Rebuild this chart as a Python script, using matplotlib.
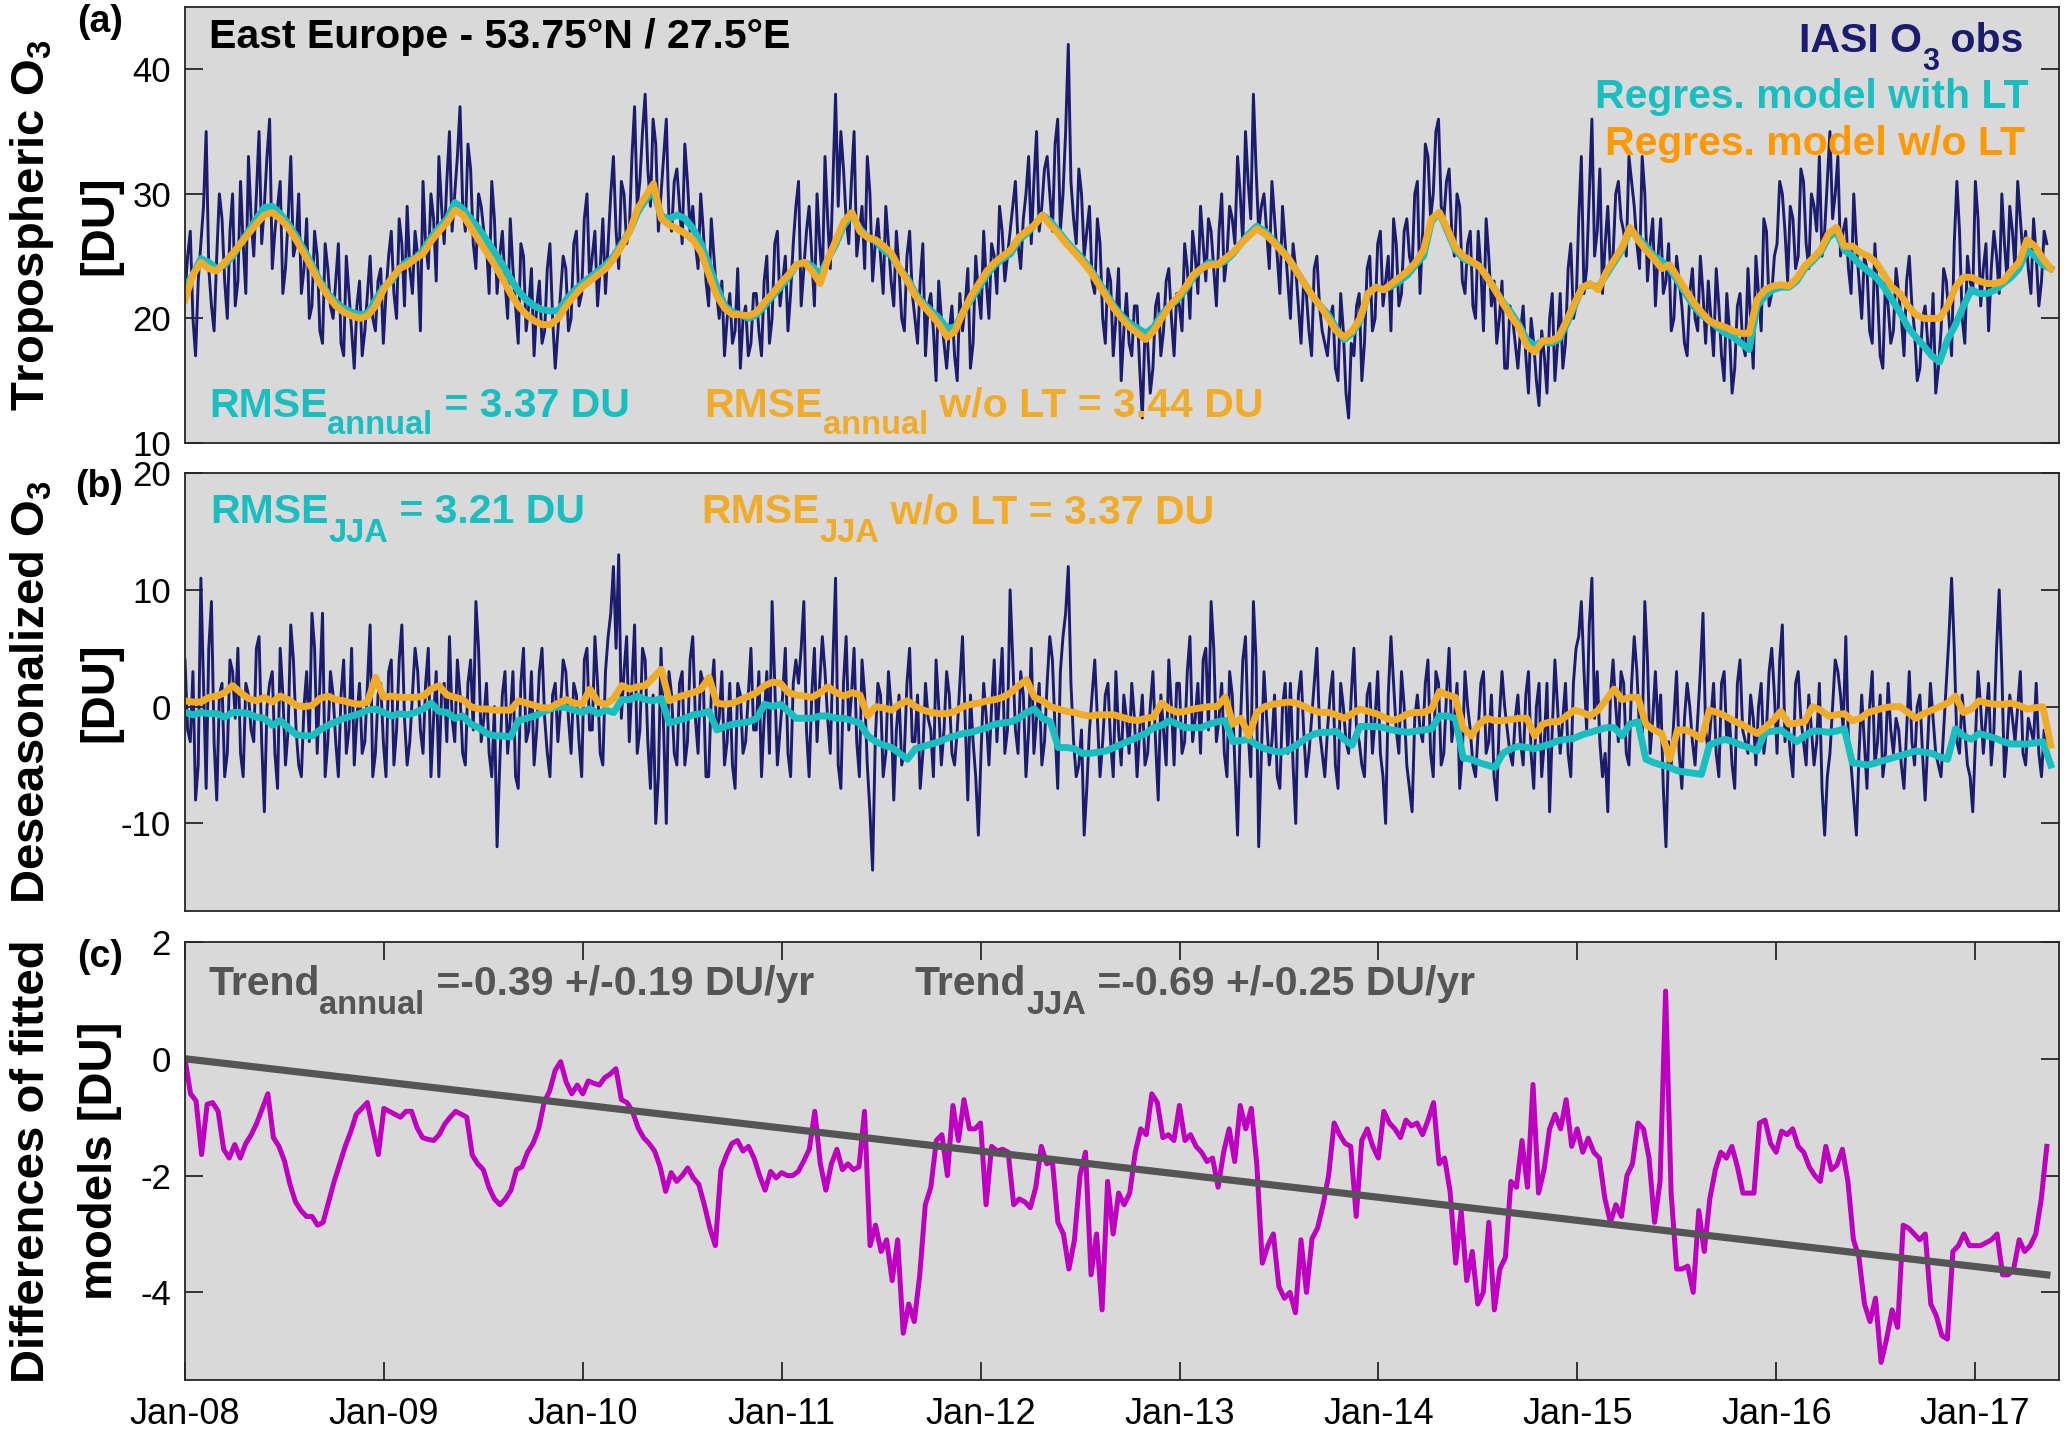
import numpy as np
import matplotlib
matplotlib.use('Agg')
import matplotlib.pyplot as plt

plt.rcParams['font.family'] = ['Liberation Sans', 'DejaVu Sans']
plt.rcParams['mathtext.fontset'] = 'custom'
plt.rcParams['mathtext.rm'] = 'Liberation Sans'
plt.rcParams['mathtext.bf'] = 'Liberation Sans:bold'
plt.rcParams['axes.unicode_minus'] = False

# ---- data (one row per year) ----
# (a) IASI tropospheric O3 observations [DU], ~10-day samples
obs_a = [
    22, 27, 17, 26, 35, 21, 25, 28, 20, 30, 23, 26, 33, 25, 35, 29, 36, 27, 31, 24, 33, 26, 22, 28, 21, 25, 18, 24, 20, 26, 17, 22, 16, 23, 19, 25,
    19, 24, 22, 27, 20, 26, 29, 22, 25, 31, 24, 28, 33, 26, 35, 30, 37, 27, 32, 24, 29, 26, 31, 22, 27, 20, 24, 18, 25, 21, 17, 23, 19, 26, 16, 22,
    24, 20, 27, 22, 30, 25, 21, 28, 26, 33, 24, 30, 27, 37, 31, 38, 29, 34, 30, 36, 27, 32, 26, 31, 29, 24, 27, 21, 25, 20, 17, 22, 19, 16, 21, 18,
    22, 17, 25, 20, 27, 23, 19, 26, 31, 24, 29, 21, 26, 33, 24, 38, 35, 28, 31, 25, 29, 33, 23, 28, 22, 26, 21, 24, 19, 27, 20, 23, 17, 22, 15, 20,
    16, 21, 15, 19, 24, 18, 22, 27, 20, 25, 29, 23, 27, 31, 24, 30, 26, 35, 29, 33, 27, 36, 30, 42, 28, 32, 25, 29, 22, 26, 18, 23, 20, 15, 22, 17,
    21, 12, 18, 16, 22, 19, 24, 17, 21, 26, 20, 25, 29, 23, 27, 21, 30, 25, 28, 33, 26, 31, 38, 27, 30, 24, 28, 22, 26, 20, 24, 18, 22, 17, 25, 19,
    17, 21, 15, 19, 12, 17, 22, 18, 25, 20, 27, 23, 19, 26, 22, 28, 24, 31, 27, 33, 30, 36, 28, 32, 25, 29, 22, 27, 20, 24, 28, 21, 18, 23, 16, 20,
    16, 21, 14, 18, 13, 17, 20, 15, 22, 18, 26, 21, 33, 24, 36, 27, 22, 29, 25, 31, 27, 33, 29, 24, 30, 26, 21, 28, 23, 19, 25, 21, 17, 24, 19, 22,
    23, 17, 21, 15, 19, 16, 22, 17, 20, 25, 19, 27, 22, 26, 30, 23, 28, 25, 31, 24, 29, 33, 27, 35, 30, 25, 28, 22, 26, 20, 24, 18, 22, 16, 21, 19,
    22, 17, 25, 19, 16, 21, 17, 14, 19, 23, 17, 31, 20, 25, 22, 28, 24, 19, 27, 22, 26, 29, 24, 28, 27, 22, 25, 23, 26,
]
# (a) observations falling between the samples above
obs_a_mid = [
    25, 20, 23, 29, 24, 19, 30, 23, 27, 21, 31, 22, 28, 30, 26, 33, 24, 29, 22, 28, 25, 30, 24, 20, 27, 19, 26, 21, 23, 18, 25, 19, 21, 17, 22, 20,
    23, 18, 25, 22, 28, 21, 24, 27, 19, 26, 30, 23, 29, 31, 27, 33, 29, 34, 26, 30, 27, 22, 28, 25, 23, 28, 21, 26, 19, 24, 21, 18, 24, 20, 19, 25,
    19, 26, 21, 28, 23, 27, 24, 22, 30, 27, 31, 26, 33, 29, 35, 32, 36, 27, 33, 28, 31, 29, 34, 27, 26, 30, 23, 28, 22, 23, 20, 18, 24, 20, 17, 22,
    19, 23, 18, 26, 21, 25, 22, 29, 21, 27, 25, 30, 23, 28, 31, 29, 32, 26, 35, 27, 24, 30, 26, 25, 29, 23, 27, 20, 25, 22, 18, 26, 21, 19, 23, 18,
    19, 17, 22, 21, 16, 25, 20, 23, 26, 22, 27, 25, 29, 26, 28, 33, 31, 27, 32, 30, 34, 27, 35, 31, 26, 30, 27, 23, 28, 20, 24, 17, 24, 19, 18, 21,
    16, 19, 14, 21, 17, 23, 20, 22, 19, 24, 27, 22, 26, 28, 24, 27, 23, 29, 26, 30, 35, 28, 32, 29, 27, 31, 25, 29, 23, 26, 21, 23, 19, 24, 21, 18,
    20, 16, 22, 14, 18, 21, 15, 24, 19, 26, 21, 25, 28, 21, 27, 25, 30, 22, 34, 28, 35, 29, 31, 27, 30, 23, 26, 21, 27, 19, 25, 23, 20, 16, 21, 18,
    19, 17, 20, 15, 19, 14, 22, 18, 16, 24, 20, 28, 22, 30, 25, 32, 26, 24, 30, 28, 25, 31, 26, 33, 23, 28, 25, 22, 26, 20, 23, 18, 22, 20, 25, 18,
    20, 24, 17, 22, 14, 21, 18, 24, 16, 22, 28, 21, 25, 31, 27, 29, 24, 32, 26, 30, 27, 25, 31, 28, 33, 27, 24, 30, 23, 25, 19, 26, 17, 23, 18, 24,
    20, 23, 21, 15, 20, 18, 22, 16, 24, 20, 26, 27, 18, 23, 31, 21, 26, 24, 25, 30, 23, 27, 31, 25, 24, 28, 21, 27,
]
# (a) regression model with long-term trend, half-month samples
model_lt_a = [
    22.5, 23.5, 24.8, 24.5, 24.0, 24.3, 25.0, 26.0, 27.0, 28.0, 28.9, 29.0, 28.4, 27.6, 26.6, 25.5, 24.3, 23.0, 22.0, 21.3, 20.8, 20.5, 20.3, 20.4,
    21.5, 22.5, 23.0, 24.0, 24.6, 24.8, 25.5, 26.5, 27.3, 28.0, 29.3, 28.8, 28.0, 27.2, 26.3, 25.3, 24.3, 23.2, 22.2, 21.5, 21.0, 20.7, 20.6, 20.6,
    21.5, 22.2, 22.8, 23.3, 23.8, 24.3, 25.0, 26.0, 27.0, 28.5, 29.5, 30.2, 28.2, 28.0, 28.3, 28.0, 27.2, 26.0, 24.3, 22.5, 21.0, 20.5, 20.3, 20.0,
    20.3, 21.0, 21.8, 22.5, 23.3, 24.3, 24.5, 24.2, 23.5, 24.8, 26.0, 27.5, 28.3, 27.2, 26.5, 26.2, 25.5, 25.0, 24.0, 23.2, 22.0, 21.2, 20.6, 20.0,
    19.2, 19.3, 20.5, 21.5, 22.5, 23.5, 24.3, 24.8, 25.2, 26.3, 26.8, 27.5, 28.3, 27.8, 27.0, 26.2, 25.5, 24.8, 24.0, 23.0, 22.0, 21.0, 20.2, 19.6,
    19.2, 18.8, 19.3, 20.3, 21.0, 21.5, 22.3, 23.3, 24.0, 24.5, 24.3, 24.6, 25.2, 26.0, 26.8, 27.4, 27.0, 26.3, 25.6, 24.8, 23.8, 22.8, 21.8, 21.0,
    20.3, 19.2, 18.3, 18.8, 19.8, 22.0, 22.5, 22.3, 22.6, 23.0, 23.5, 24.3, 25.0, 27.8, 28.5, 27.0, 25.5, 24.8, 24.5, 24.2, 23.3, 22.3, 21.3, 20.5,
    19.5, 18.3, 17.8, 18.2, 18.0, 18.3, 19.5, 21.0, 22.5, 22.7, 22.5, 23.5, 24.5, 25.5, 27.2, 26.5, 25.8, 25.0, 24.6, 24.0, 23.0, 22.0, 21.0, 20.3,
    19.8, 19.3, 18.8, 18.5, 18.0, 17.5, 21.0, 21.8, 22.3, 22.5, 22.5, 23.0, 24.0, 24.6, 25.3, 26.5, 27.0, 25.5, 25.0, 24.3, 23.8, 23.3, 22.5, 21.5,
    20.5, 19.3, 18.5, 17.8, 17.0, 16.5, 18.3, 19.5, 21.0, 22.3, 22.0, 22.0, 22.3, 22.8, 23.3, 24.0, 25.5, 25.0, 24.3, 24.0,
]
# (a) regression model without long-term trend
model_nolt_a = [
    21.5, 23.5, 24.5, 24.0, 23.8, 24.5, 25.2, 26.0, 26.8, 27.6, 28.3, 28.5, 28.0, 27.3, 26.3, 25.2, 24.0, 22.8, 21.8, 21.0, 20.5, 20.2, 20.0, 20.2,
    21.0, 22.3, 23.2, 24.0, 24.3, 24.8, 25.2, 26.2, 27.0, 27.7, 28.7, 28.3, 27.3, 26.3, 25.3, 24.3, 23.2, 22.0, 21.0, 20.3, 19.8, 19.5, 19.5, 20.0,
    21.0, 21.8, 22.5, 23.0, 23.5, 24.0, 24.8, 25.8, 27.0, 28.8, 29.8, 30.8, 28.0, 27.5, 27.2, 26.8, 26.3, 25.3, 23.5, 21.8, 20.8, 20.3, 20.3, 20.2,
    20.5, 21.3, 22.0, 22.8, 23.5, 24.3, 24.5, 23.8, 22.8, 24.8, 26.3, 27.8, 28.5, 27.0, 26.5, 26.3, 25.8, 25.2, 24.0, 23.0, 21.8, 21.0, 20.3, 19.5,
    18.5, 19.0, 20.5, 21.8, 22.8, 23.8, 24.5, 25.0, 25.5, 26.5, 27.0, 27.5, 28.3, 27.5, 26.8, 26.0, 25.3, 24.6, 23.8, 22.8, 21.8, 20.8, 20.0, 19.3,
    18.8, 18.3, 19.0, 20.0, 21.0, 21.7, 22.5, 23.5, 24.0, 24.3, 24.3, 24.8, 25.3, 26.0, 26.6, 27.2, 26.8, 26.2, 25.5, 24.8, 23.8, 22.8, 21.8, 21.0,
    20.0, 19.0, 18.5, 19.0, 20.0, 22.0, 22.5, 22.3, 22.8, 23.3, 23.8, 24.5, 25.5, 28.0, 28.5, 27.2, 25.7, 25.0, 24.6, 24.2, 23.3, 22.3, 21.2, 20.2,
    19.3, 17.8, 17.3, 18.2, 18.2, 18.5, 19.8, 21.2, 22.5, 22.8, 22.3, 23.7, 24.7, 25.7, 27.3, 26.3, 25.5, 24.8, 24.0, 24.3, 23.3, 22.3, 21.3, 20.5,
    19.8, 19.5, 19.3, 19.0, 18.8, 18.8, 21.5, 22.3, 22.6, 22.7, 22.6, 23.2, 24.2, 24.8, 25.5, 26.8, 27.3, 25.8, 25.8, 25.3, 25.0, 24.5, 23.5, 22.5,
    22.0, 21.0, 20.3, 20.0, 20.0, 20.0, 21.0, 22.5, 23.3, 23.3, 23.0, 22.8, 22.8, 23.0, 23.8, 24.5, 26.3, 25.8, 24.8, 24.0,
]
# (b) deseasonalized observations [DU]
obs_b = [
    4, -3, -8, 11, -7, 9, -8, 2, -4, 3, 5, -6, 1, -3, 6, -9, 2, -4, 5, -5, 7, -2, -6, 3, 8, -4, 8, -3, 1, -6, 4, -2, -5, 2, -3, 7,
    -4, 2, -6, 4, -2, 7, -5, 1, 3, -4, 5, -1, -6, 2, 6, -3, 1, -5, 4, 9, -3, 2, -6, -12, 1, -4, 3, -7, 5, -2, -5, 3, -1, -6, 2, 0,
    3, -4, 1, -6, 5, -2, 2, -5, 6, 12, 13, 3, -3, 7, -2, 4, -7, -10, 5, -10, 1, -5, 3, -3, 6, -4, 2, -6, 4, -1, -5, 2, -7, 1, -3, 5,
    -2, -6, 3, 9, -5, 1, -4, 2, 2, 9, -6, 5, 2, 3, -4, 11, -7, 6, 1, -3, 4, -5, -14, 2, -6, 3, -8, 1, -4, 5, -3, -7, 2, -2, 4, -5,
    3, -4, -2, 6, -8, -3, -11, 2, -5, 4, 1, -4, 10, -2, 3, -6, 5, -1, -5, 2, 4, -7, 6, 12, -3, -5, -11, -2, 4, -6, 1, -3, 3, -5, -1, 2,
    -6, 1, -4, 3, -8, -2, 4, -5, 2, -3, 6, -1, -4, 5, 9, -3, 2, -6, 1, -11, 4, -2, 9, -12, 3, -5, 1, -7, 2, 2, -10, 3, -6, -1, 5, -4,
    -2, 3, -7, 0, -4, 5, -3, -6, 2, -1, -4, -10, 6, -2, 3, -5, -9, 1, -3, 4, -6, 2, -4, 5, -1, -7, 3, -2, -6, 2, -4, 1, -8, 3, -2, -5,
    1, -5, 3, -7, 2, -3, -9, 4, -4, 2, -6, 5, 9, -2, 11, 3, -6, -9, 4, -3, 2, -5, 6, -2, 9, -4, 3, 1, -12, -5, 3, -7, 2, -3, -1, 8,
    -4, 2, -6, 3, -1, -7, 4, -3, 1, -5, 2, -2, 5, -4, 7, -1, -6, 3, -3, 1, -5, 2, -11, -4, 4, 1, 6, -5, -11, 1, -7, 3, -3, -6, 2, -4,
    -2, -7, 3, -5, 1, -8, 2, -4, -6, 2, 11, -3, 1, -5, -9, 3, -4, 2, -2, 10, -6, 1, -3, 3, -5, -2, 2, -6, -4,
]
obs_b_mid = [
    -2, 3, -5, 2, 5, -3, 1, -6, 4, -1, -4, 2, -2, 5, -3, 0, 3, -7, 1, -2, 4, -5, 0, -3, 5, 2, -6, 3, -3, 1, -4, 5, -1, -4, 2, -6,
    1, -3, 3, -5, 4, -1, -3, 5, -2, 2, -6, 3, 1, -3, -1, 4, -4, 2, -2, 5, -1, -4, 0, -5, 3, -1, -6, 2, -3, 3, -2, 5, -4, 1, -3, 4,
    -1, 2, -3, 4, -2, 6, -4, 3, 8, 5, -1, 6, 2, -4, 5, -3, 1, -6, -2, 3, -4, 2, -5, 4, -1, 3, -6, 1, -2, 3, -3, -5, 2, -4, 1, -2,
    3, -1, -4, 2, -2, 5, -6, 4, 5, -2, 1, -3, 6, -1, 4, -5, 2, -2, 5, -6, 1, -9, -3, 1, -4, 0, -2, -5, 2, -3, 1, -4, -1, -6, 0, -2,
    1, -5, 2, -1, 1, -6, -4, -1, 0, -3, 5, -2, 4, -4, 1, -2, -4, 2, -3, 6, -2, 3, 8, 2, -6, -2, -7, 1, -1, -3, 2, -6, -2, 1, -4, -1,
    -2, -5, 0, -3, 1, -5, 0, 2, -4, 3, -3, 2, 4, -2, 5, -1, -4, 3, -5, -2, 6, -6, 4, -4, -1, -3, -6, 0, -4, -5, 1, -2, -4, 2, -2, -6,
    1, -5, 2, -3, 1, -2, -5, 1, -4, 3, -6, 1, 2, -4, 0, -7, -1, -2, 2, -4, 3, -5, 1, -3, 2, -4, 0, -5, -2, 3, -3, -6, -1, 0, -4, -1,
    -3, 1, -4, 0, -6, 2, -2, 0, -1, -4, 2, 6, 3, 7, -1, -3, -4, 1, 0, 3, -4, 2, 3, -3, 4, -1, -2, -7, -3, -1, -4, -1, 0, -5, 3, -2,
    -1, -4, 2, -3, -5, 2, -2, -4, -1, 0, -4, 3, 1, 4, -3, -4, 2, -1, -5, -2, -3, -7, -6, 0, 3, -2, -3, -8, -4, -3, 0, -5, 1, -4, -2, -1,
    -5, -2, -3, 0, -4, -3, -1, -5, -2, 6, 5, -4, -2, -6, -3, 0, -1, -5, 5, 3, -3, -1, 0, -4, -1, -3, -4, -2,
]
# (b) deseasonalized model with long-term trend
model_lt_b = [
    -0.5, -0.7, -0.5, -0.6, -0.6, -0.9, -0.5, -0.5, -0.6, -0.9, -1.0, -1.6, -1.2, -1.8, -2.4, -2.5, -2.5, -2.0, -1.6, -1.3, -1.0, -0.8, -0.6, -0.3,
    -0.2, -0.5, -0.8, -0.6, -0.7, -0.5, -0.2, 0.3, -0.4, -0.5, -1.0, -0.8, -1.5, -1.8, -2.3, -2.5, -2.5, -2.6, -1.2, -1.0, -0.8, -0.5, -0.2, 0.0,
    -0.1, -0.3, -0.5, -0.2, -0.6, -0.3, -0.5, 0.6, 0.6, 0.9, 0.6, 0.5, 0.7, -1.4, -1.2, -1.0, -0.7, -0.6, -0.4, -2.0, -1.7, -1.5, -1.4, -1.3,
    -1.0, 0.2, 0.0, 0.2, -0.4, -1.0, -1.0, -1.0, -0.8, -0.8, -1.0, -1.0, -1.2, -1.4, -2.5, -3.0, -3.3, -3.5, -4.0, -4.5, -3.6, -3.4, -3.2, -3.0,
    -2.7, -2.5, -2.3, -2.2, -2.0, -1.8, -1.5, -1.4, -1.3, -1.0, -0.5, -0.2, -1.0, -1.3, -3.5, -3.5, -3.6, -4.0, -4.0, -3.9, -3.8, -3.5, -3.2, -2.9,
    -2.6, -2.3, -1.8, -1.6, -1.2, -1.5, -1.8, -1.8, -1.8, -1.5, -1.3, -1.2, -3.0, -2.9, -2.8, -3.3, -3.6, -3.8, -3.9, -3.7, -3.3, -2.8, -2.4, -2.2,
    -2.2, -2.1, -2.8, -3.3, -1.7, -1.7, -1.7, -1.8, -2.0, -2.1, -2.2, -2.1, -2.0, -1.9, -0.8, -0.8, -1.0, -4.4, -4.5, -4.8, -5.0, -5.2, -4.0, -3.6,
    -3.4, -3.5, -3.6, -3.4, -3.2, -2.9, -2.8, -2.7, -2.4, -2.2, -2.0, -1.8, -1.8, -2.5, -1.5, -1.3, -4.5, -4.8, -5.0, -5.2, -5.5, -5.6, -5.7, -5.8,
    -3.3, -3.0, -2.8, -3.0, -3.3, -3.5, -3.8, -2.2, -2.1, -2.0, -2.5, -3.0, -2.5, -2.1, -2.1, -2.2, -2.1, -1.9, -4.8, -4.9, -5.0, -4.8, -4.6, -4.4,
    -4.2, -4.0, -3.8, -3.9, -4.0, -4.3, -4.5, -1.9, -2.5, -2.8, -2.3, -2.5, -2.7, -3.0, -3.2, -3.2, -3.2, -3.1, -3.0, -5.0,
]
# (b) deseasonalized model without long-term trend
model_nolt_b = [
    0.5, 0.4, 0.4, 0.8, 0.9, 1.2, 1.8, 1.2, 0.7, 0.5, 0.8, 0.4, 0.9, 0.6, 0.1, 0.0, 0.1, 0.7, 0.9, 0.6, 0.5, 0.3, 0.2, 0.4,
    2.5, 0.8, 0.9, 0.8, 0.8, 0.8, 0.9, 1.5, 1.8, 1.0, 0.8, 0.6, 0.0, -0.2, -0.2, -0.3, -0.3, -0.3, 0.5, 0.3, 0.1, -0.1, -0.1, 0.3,
    0.6, 0.3, 0.2, 1.5, 0.4, 0.2, 0.7, 1.8, 1.5, 1.7, 1.8, 2.5, 3.2, 0.5, 0.8, 1.0, 1.2, 1.5, 2.5, 0.3, 0.2, 0.3, 0.6, 0.9,
    1.2, 1.8, 2.1, 2.0, 1.2, 1.0, 0.9, 0.8, 1.2, 1.7, 1.2, 0.9, 1.2, 1.0, -0.8, 0.0, -0.1, -0.3, 0.2, 0.5, 0.0, -0.3, -0.5, -0.6,
    -0.6, -0.4, 0.0, 0.2, 0.3, 0.5, 0.6, 0.8, 1.2, 1.8, 2.3, 0.8, 0.5, 0.0, -0.2, -0.4, -0.5, -0.7, -0.8, -0.7, -0.7, -0.7, -0.9, -1.1,
    -1.2, -1.0, -0.9, 0.3, -0.2, -0.5, -0.4, -0.2, -0.1, 0.0, 0.0, 0.8, -1.5, -1.0, -2.5, -0.5, 0.0, 0.2, 0.3, 0.4, 0.3, 0.0, -0.3, -0.5,
    -0.5, -0.7, -1.0, -0.6, -0.2, -0.4, -0.6, -0.9, -1.2, -1.0, -0.6, -0.5, -0.5, -0.2, 1.3, 1.0, 0.8, -1.8, -2.5, -1.5, -1.0, -1.2, -1.2, -1.1,
    -1.0, -1.0, -2.5, -1.5, -1.3, -1.3, -0.8, -0.3, -0.5, -0.8, -0.3, 0.6, 1.5, 0.6, 0.8, 0.8, -1.5, -2.0, -2.3, -4.5, -2.0, -2.0, -2.3, -2.8,
    -0.3, -0.5, -0.8, -1.2, -1.5, -1.9, -2.3, -1.8, -1.2, -0.4, -1.5, -1.4, -1.3, 0.0, -0.3, -0.8, -0.7, -0.6, -1.2, -1.0, -0.5, -0.3, -0.1, 0.0,
    0.0, -0.5, -1.0, -0.6, -0.3, 0.0, 0.3, 0.9, -0.5, -0.2, 0.5, 0.3, 0.2, 0.2, 0.3, 0.1, -0.2, -0.1, 0.0, -3.3,
]
# (c) difference of the two fitted models [DU], ~10-day samples
model_diff = [
    0.0, -0.6, -0.72, -1.64, -0.78, -0.75, -0.9, -1.55, -1.7, -1.47, -1.7, -1.45, -1.3, -1.1, -0.85, -0.6, -1.35, -1.5, -1.75, -2.15, -2.45, -2.6, -2.7, -2.7, -2.85, -2.8, -2.45, -2.1, -1.8, -1.5, -1.25, -0.95, -0.85, -0.75, -1.2, -1.64,
    -0.85, -0.9, -0.95, -1.0, -0.9, -0.9, -1.18, -1.35, -1.38, -1.4, -1.3, -1.12, -1.0, -0.9, -0.95, -1.0, -1.65, -1.8, -1.9, -2.2, -2.4, -2.5, -2.4, -2.25, -1.9, -1.85, -1.6, -1.45, -1.2, -0.75, -0.55, -0.2,
    -0.05, -0.4, -0.6, -0.45, -0.6, -0.38, -0.42, -0.45, -0.32, -0.26, -0.17, -0.7, -0.75, -0.9, -1.18, -1.35, -1.45, -1.58, -1.85, -2.27, -1.95, -2.1, -2.0, -1.87, -2.04, -2.15, -2.5, -2.9, -3.2, -1.9,
    -1.65, -1.45, -1.4, -1.58, -1.5, -1.7, -2.0, -2.25, -1.93, -2.04, -1.95, -2.0, -2.0, -1.93, -1.75, -1.55, -0.9, -1.8, -2.25, -1.8, -1.55, -1.9, -1.8, -1.9, -1.85, -0.9, -3.2, -2.85, -3.3, -3.1, -3.8, -3.1,
    -4.7, -4.2, -4.5, -3.7, -2.5, -2.2, -1.4, -1.3, -2.0, -0.8, -1.4, -0.7, -1.2, -1.2, -1.1, -2.5, -1.5, -1.58, -1.55, -1.6, -2.5, -2.4, -2.45, -2.55, -2.2, -1.5, -1.8, -1.75, -2.8, -3.0, -3.6, -3.1,
    -2.0, -1.6, -3.7, -3.0, -4.3, -2.1, -3.0, -2.3, -2.5, -2.3, -1.6, -1.2, -1.3, -0.6, -0.75, -1.35, -1.3, -1.4, -0.8, -1.4, -1.3, -1.5, -1.6, -1.76, -1.7, -2.2, -1.6, -1.2, -1.76, -0.8, -1.2, -0.85,
    -1.8, -3.5, -3.2, -3.0, -3.9, -4.1, -4.0, -4.35, -3.1, -4.0, -3.08, -2.9, -2.5, -2.0, -1.1, -1.3, -1.45, -1.5, -2.7, -1.4, -1.2, -1.5, -1.7, -0.9, -1.1, -1.2, -1.35, -1.05, -1.15, -1.1, -1.3, -1.05,
    -0.75, -1.8, -1.7, -2.28, -3.5, -2.6, -3.8, -3.3, -4.2, -4.0, -2.8, -4.3, -3.6, -3.4, -2.1, -2.2, -1.4, -2.2, -0.44, -2.3, -1.9, -1.2, -0.95, -1.2, -0.7, -1.5, -1.2, -1.6, -1.36, -1.6, -1.7, -2.39,
    -2.8, -2.5, -2.7, -2.0, -1.8, -1.1, -1.2, -1.7, -2.8, -2.1, 1.16, -2.3, -3.6, -3.6, -3.55, -4.0, -2.6, -3.3, -2.4, -1.9, -1.6, -1.7, -1.5, -1.85, -2.3, -2.3, -2.3, -1.1, -1.05, -1.45, -1.6, -1.24,
    -1.3, -1.2, -1.5, -1.6, -1.85, -2.0, -2.1, -1.5, -1.9, -1.82, -1.55, -2.1, -3.1, -3.4, -4.2, -4.5, -4.1, -5.2, -4.8, -4.3, -4.6, -2.85, -2.9, -3.0, -3.1, -3.0, -4.2, -4.4, -4.74, -4.8, -3.3, -3.2,
    -3.0, -3.2, -3.2, -3.2, -3.15, -3.1, -3.0, -3.7, -3.7, -3.6, -3.1, -3.3, -3.2, -3.0, -2.4, -1.5,
]
# linear trend of the difference (start / end of record)
trend_years = [2008.0, 2017.36]
trend_vals = [0.0, -3.7]

tick_years = list(range(2008, 2018))
tick_labels = ['Jan-%02d' % (y % 100) for y in tick_years]


def interleave(a, b):
    out = []
    for i, v in enumerate(a):
        out.append(v)
        if i < len(b) and i < len(a) - 1:
            out.append(b[i])
    return out


obs_a_all = interleave(obs_a, obs_a_mid)
obs_b_all = interleave(obs_b, obs_b_mid)

t_obs_a = np.linspace(2008.0, 2017.36, len(obs_a_all))
t_mod_a = np.linspace(2008.0, 2017.38, len(model_lt_a))
t_mod_a2 = np.linspace(2008.0, 2017.38, len(model_nolt_a))
t_obs_b = np.linspace(2008.0, 2017.36, len(obs_b_all))
t_mod_b = np.linspace(2008.0, 2017.38, len(model_lt_b))
t_mod_b2 = np.linspace(2008.0, 2017.38, len(model_nolt_b))
t_diff = np.linspace(2008.0, 2017.36, len(model_diff))

NAVY = '#1C1C6E'
CYAN = '#19BFC0'
ORANGE = '#F0AC28'
ORANGE_LEG = '#FF9900'
MAGENTA = '#C000C0'
GREY = '#555555'

fig = plt.figure(figsize=(20.67, 14.34), dpi=100)
ax_a = fig.add_axes([0.0895, 0.6911, 0.9065, 0.3040])
ax_b = fig.add_axes([0.0895, 0.3647, 0.9065, 0.3054])
ax_c = fig.add_axes([0.0895, 0.0377, 0.9065, 0.3054])


def style(ax, yticks, ylim, xlabels=False):
    ax.set_facecolor('#D9D9D9')
    ax.set_xlim(2008.0, 2017.42)
    ax.set_ylim(*ylim)
    ax.set_yticks(yticks)
    ax.tick_params(axis='y', direction='in', length=13, width=1.3, color='#262626',
                   labelsize=25, left=True, right=True, pad=10)
    if xlabels:
        ax.set_xticks(tick_years)
        ax.set_xticklabels(tick_labels)
        ax.tick_params(axis='x', direction='in', length=13, width=1.3, color='#262626',
                       labelsize=26, top=True, bottom=True, pad=12)
    else:
        ax.set_xticks([])
    for s in ax.spines.values():
        s.set_color('#262626')
        s.set_linewidth(1.3)


def ylab(ax, line1, line2):
    pos = ax.get_position()
    yc = pos.y0 + pos.height / 2
    fig.text(0.0155, yc, line1, rotation=90, ha='center', va='center',
             fontsize=34, fontweight='bold')
    fig.text(0.0485, yc, line2, rotation=90, ha='center', va='center',
             fontsize=34, fontweight='bold')


def sub_text(ax, x, y, pieces, color, size=29.5, subsize=23.5, drop=12):
    # pieces alternate normal / subscript / normal ...
    first = ax.text(x, y, pieces[0], transform=ax.transAxes, color=color, fontsize=size,
                    fontweight='bold', va='baseline', ha='left')
    prev = first
    for j, p in enumerate(pieces[1:], 1):
        if j % 2 == 1:
            prev = ax.annotate(p, xy=(1, 0), xycoords=(prev, first), xytext=(0, -drop),
                               textcoords='offset points', color=color, fontsize=subsize,
                               fontweight='bold', va='bottom', ha='left')
        else:
            prev = ax.annotate(p, xy=(1, 0), xycoords=(prev, first), color=color,
                               fontsize=size, fontweight='bold', va='bottom', ha='left')
    return first


# ---- (a) ----
ax_a.plot(t_obs_a, obs_a_all, color=NAVY, lw=2.1)
ax_a.plot(t_mod_a, model_lt_a, color=CYAN, lw=5)
ax_a.plot(t_mod_a2, model_nolt_a, color=ORANGE, lw=5)
style(ax_a, [10, 20, 30, 40], (10, 45))
ylab(ax_a, 'Tropospheric O$_\\mathbf{3}$', '[DU]')
ax_a.text(0.0128, 0.905, 'East Europe - 53.75°N / 27.5°E', transform=ax_a.transAxes,
          fontsize=29.5, fontweight='bold', va='baseline', ha='left', color='black')
obs_t = ax_a.text(0.981, 0.897, ' obs', transform=ax_a.transAxes, fontsize=29.5,
                  fontweight='bold', color=NAVY, va='baseline', ha='right')
o3_sub = ax_a.annotate('3', xy=(0, 0), xycoords=(obs_t, obs_t), xytext=(0, -12),
                       textcoords='offset points', fontsize=22, fontweight='bold',
                       color=NAVY, va='bottom', ha='right')
ax_a.annotate('IASI O', xy=(0, 0), xycoords=(o3_sub, obs_t), fontsize=29.5,
              fontweight='bold', color=NAVY, va='bottom', ha='right')
ax_a.text(0.984, 0.768, 'Regres. model with LT', transform=ax_a.transAxes, fontsize=29.5,
          fontweight='bold', color=CYAN, va='baseline', ha='right')
ax_a.text(0.982, 0.661, 'Regres. model w/o LT', transform=ax_a.transAxes, fontsize=29.5,
          fontweight='bold', color=ORANGE_LEG, va='baseline', ha='right')
sub_text(ax_a, 0.0128, 0.06, ['RMSE', 'annual', ' = 3.37 DU'], CYAN)
sub_text(ax_a, 0.277, 0.06, ['RMSE', 'annual', ' w/o LT = 3.44 DU'], ORANGE)

# ---- (b) ----
ax_b.plot(t_obs_b, obs_b_all, color=NAVY, lw=2.1)
ax_b.plot(t_mod_b, model_lt_b, color=CYAN, lw=5)
ax_b.plot(t_mod_b2, model_nolt_b, color=ORANGE, lw=5)
style(ax_b, [-10, 0, 10, 20], (-17.5, 20))
ylab(ax_b, 'Deseasonalized O$_\\mathbf{3}$', '[DU]')
sub_text(ax_b, 0.0133, 0.886, ['RMSE', 'JJA', ' = 3.21 DU'], CYAN, drop=13)
sub_text(ax_b, 0.2753, 0.886, ['RMSE', 'JJA', ' w/o LT = 3.37 DU'], ORANGE, drop=13)

# ---- (c) ----
ax_c.plot(t_diff, model_diff, color=MAGENTA, lw=3.6)
ax_c.plot(trend_years, trend_vals, color=GREY, lw=5.2)
style(ax_c, [-4, -2, 0, 2], (-5.5, 2), xlabels=True)
ylab(ax_c, 'Differences of fitted', 'models [DU]')
sub_text(ax_c, 0.0123, 0.879, ['Trend', 'annual', ' =-0.39 +/-0.19 DU/yr'], GREY, drop=13)
sub_text(ax_c, 0.3895, 0.879, ['Trend', 'JJA', ' =-0.69 +/-0.25 DU/yr'], GREY, drop=13)

# panel letters
for lab, yy in [('(a)', 0.9847), ('(b)', 0.6604), ('(c)', 0.3326)]:
    fig.text(0.0595, yy, lab, fontsize=27, fontweight='bold', ha='right', va='center')

fig.savefig('out.png', dpi=100)
